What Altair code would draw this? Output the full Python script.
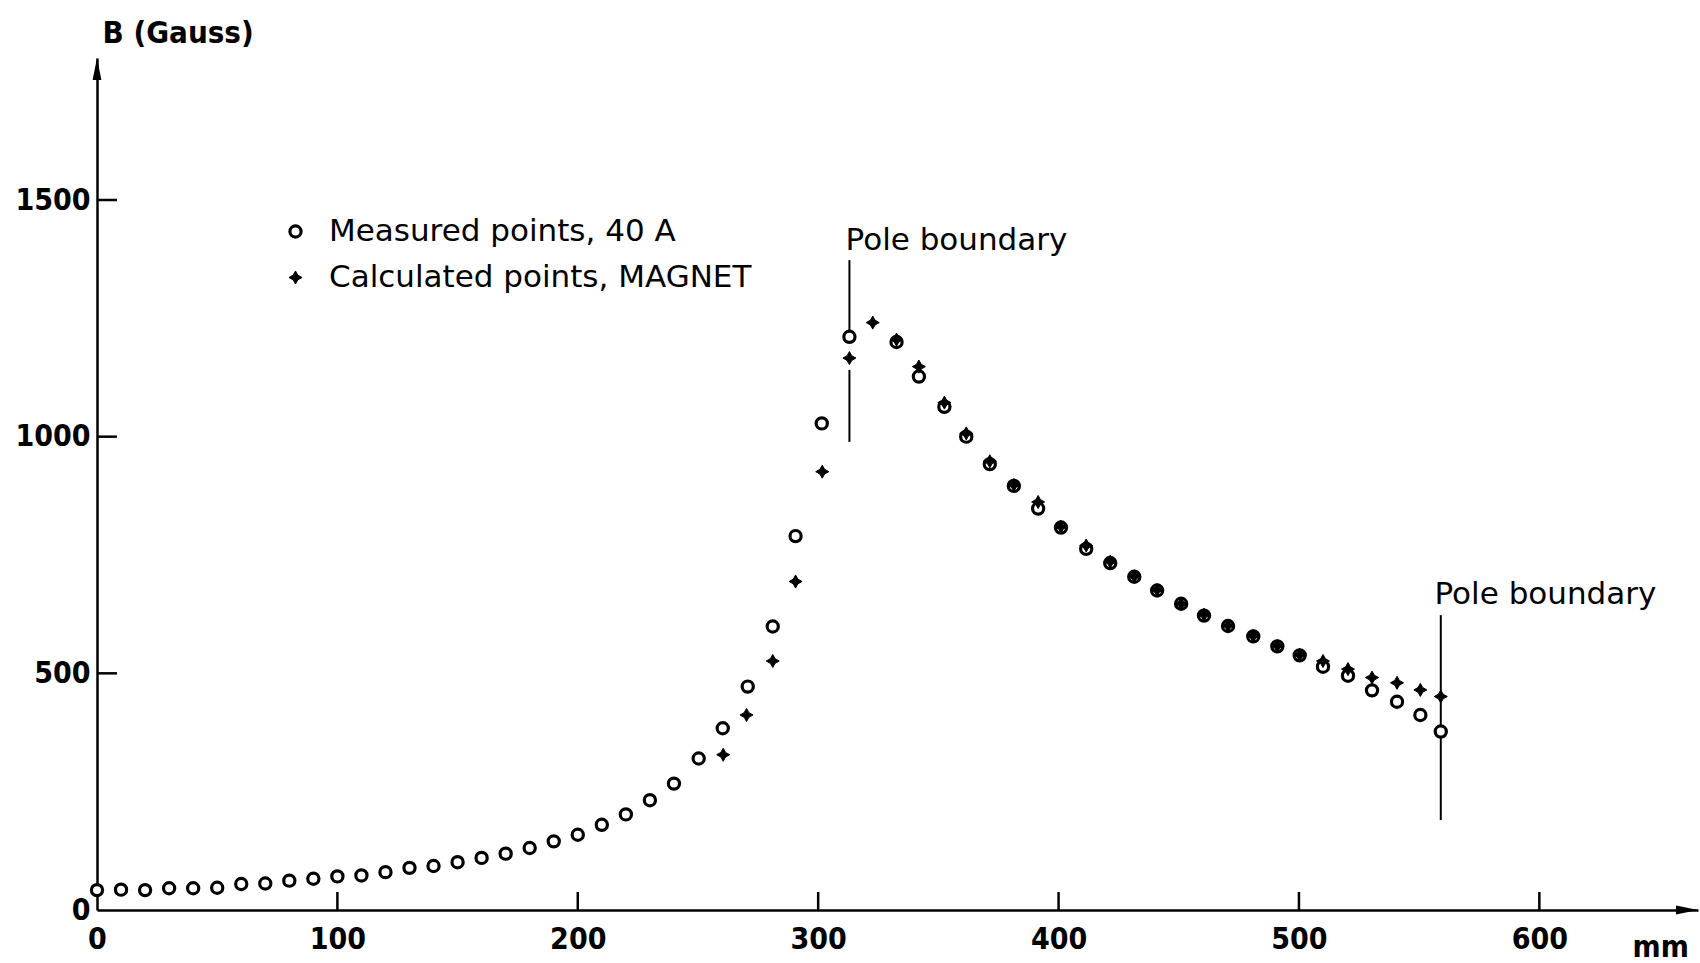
import altair as alt
import pandas as pd

# ---------------- data ----------------
meas_x = [0, 10, 20, 30, 40, 50, 60, 70, 80, 90, 100, 110, 120, 130, 140, 150, 160, 170, 180, 190,
          200, 210, 220, 230, 240, 250.3, 260.3, 270.7, 281.1, 290.6, 301.5, 313,
          332.6, 341.9, 352.5, 361.6, 371.4, 381.4, 391.5, 401, 411.5, 421.5, 431.5, 441, 451,
          460.5, 470.5, 481, 491, 500.3, 510, 520.4, 530.4, 540.8, 550.5, 559]
meas_b = [42, 43, 42, 46, 46, 47, 55, 56, 62, 66, 71, 73, 80, 89, 93, 101, 110, 119, 131, 145,
          159, 180, 202, 232, 267, 320, 384, 472, 599, 790, 1028, 1211,
          1200, 1127, 1063, 1000, 942, 896, 848, 808, 763, 733, 704, 675, 647,
          622, 600, 578, 557, 538, 514, 495, 464, 440, 412, 377]

calc_x = [260.5, 270.2, 281.1, 290.6, 301.7, 313, 322.7, 332.6, 341.9, 352.5, 361.6, 371.4, 381.4,
          391.5, 401, 411.5, 421.5, 431.5, 441, 451, 460.5, 470.5, 481, 491, 500.3, 510, 520.4,
          530.4, 540.8, 550.5, 559]
calc_b = [328, 412, 526, 694, 926, 1166, 1241, 1205, 1148, 1072, 1007, 948, 898,
          862, 810, 770, 736, 705, 676, 647, 624, 601, 579, 558, 539, 526, 509,
          491, 480, 465, 451]

series_names = ["Measured points, 40 A", "Calculated points, MAGNET"]

# pole boundary markers
pole_x = [313, 313, 559]
pole_top = [1373, 1141, 623]
pole_bottom = [1211, 989, 190]
pole_label = ["Pole boundary", "Pole boundary"]
pole_label_x = [311.4, 556.4]
pole_label_b = [1394, 647]

x_ticks = [100, 200, 300, 400, 500, 600]
x_labels = [0, 100, 200, 300, 400, 500, 600]
y_ticks = [500, 1000, 1500]
y_labels = [0, 500, 1000, 1500]

# ---------------- layout ----------------
W, H = 1601, 852
FONT = "DejaVu Sans Condensed"
TXT_FONT = "DejaVu Sans"
STAR = "M0,-1L0.36,-0.36L1,0L0.36,0.36L0,1L-0.36,0.36L-1,0L-0.36,-0.36Z"

xs = alt.Scale(domain=[0, 666], nice=False, zero=False)
ys = alt.Scale(domain=[0, 1800], nice=False, zero=False)

pts = pd.concat([
    pd.DataFrame({"x": meas_x, "b": meas_b, "series": series_names[0]}),
    pd.DataFrame({"x": calc_x, "b": calc_b, "series": series_names[1]}),
], ignore_index=True)

x_axis = alt.Axis(values=x_labels, format="d", ticks=False, tickSize=0, grid=False,
                  domainColor="black", domainWidth=2.5, labelFont=FONT, labelFontSize=30,
                  labelFontWeight="bold", labelColor="black", labelPadding=14,
                  labelFlush=False, labelOverlap=False,
                  title="mm", titleFont=FONT, titleFontSize=30, titleFontWeight="bold",
                  titleColor="black", titleX=1535, titleY=46, titleAlign="left",
                  titleBaseline="alphabetic", titleAnchor="start")
y_axis = alt.Axis(values=y_labels, format="d", ticks=False, tickSize=0, grid=False,
                  domainColor="black", domainWidth=2.5, labelFont=FONT, labelFontSize=30,
                  labelFontWeight="bold", labelColor="black", labelPadding=7,
                  labelFlush=False, labelOverlap=False,
                  title="B (Gauss)", titleFont=FONT, titleFontSize=31, titleFontWeight="bold",
                  titleColor="black", titleAngle=0, titleX=5, titleY=-16, titleAlign="left",
                  titleBaseline="alphabetic")

legend = alt.Legend(title=None, orient="none", legendX=183, legendY=158, padding=0,
                    labelFont=TXT_FONT, labelFontSize=31, labelColor="black", labelLimit=0,
                    labelOffset=18, rowPadding=14, symbolOpacity=1)

points = alt.Chart(pts).mark_point(opacity=1, filled=False).encode(
    x=alt.X("x:Q", scale=xs, axis=x_axis),
    y=alt.Y("b:Q", scale=ys, axis=y_axis),
    shape=alt.Shape("series:N", sort=series_names,
                    scale=alt.Scale(domain=series_names, range=["circle", STAR]), legend=legend),
    fill=alt.Fill("series:N", sort=series_names,
                  scale=alt.Scale(domain=series_names, range=["white", "black"]), legend=legend),
    stroke=alt.Stroke("series:N", sort=series_names,
                      scale=alt.Scale(domain=series_names, range=["black", "#000000"]), legend=legend),
    strokeWidth=alt.StrokeWidth("series:N", sort=series_names,
                                scale=alt.Scale(domain=series_names, range=[3.2, 1]), legend=legend),
    size=alt.Size("series:N", sort=series_names,
                  scale=alt.Scale(domain=series_names, range=[125, 170]), legend=legend),
)

poles = alt.Chart(pd.DataFrame({"x": pole_x, "b": pole_top, "b2": pole_bottom})).mark_rule(
    color="black", strokeWidth=2).encode(
    x=alt.X("x:Q", scale=xs), y=alt.Y("b:Q", scale=ys), y2="b2:Q")

pole_text = alt.Chart(pd.DataFrame({"x": pole_label_x, "b": pole_label_b, "t": pole_label})).mark_text(
    align="left", baseline="alphabetic", font=TXT_FONT, fontSize=31, color="black").encode(
    x=alt.X("x:Q", scale=xs), y=alt.Y("b:Q", scale=ys), text="t:N")

xtick_rules = alt.Chart(pd.DataFrame({"x": x_ticks})).mark_rule(color="black", strokeWidth=2.5).encode(
    x=alt.X("x:Q", scale=xs), y=alt.value(H), y2=alt.value(H - 18))

ytick_rules = alt.Chart(pd.DataFrame({"b": y_ticks})).mark_rule(color="black", strokeWidth=2.5).encode(
    y=alt.Y("b:Q", scale=ys), x=alt.value(0), x2=alt.value(20))

x_arrow = alt.Chart(pd.DataFrame({"a": ["x"]})).mark_point(
    shape="M1,0L-1,-0.4L-1,0.4Z", filled=True, color="black", opacity=1, size=484).encode(
    x=alt.value(W - 11), y=alt.value(H))
y_arrow = alt.Chart(pd.DataFrame({"a": ["y"]})).mark_point(
    shape="M0,-1L0.4,1L-0.4,1Z", filled=True, color="black", opacity=1, size=484).encode(
    x=alt.value(0), y=alt.value(11))

chart = alt.layer(
    poles, points, pole_text, xtick_rules, ytick_rules, x_arrow, y_arrow
).properties(
    width=W, height=H,
    padding={"left": 97, "top": 58, "right": 2, "bottom": 53},
    autosize=alt.AutoSizeParams(type="none"),
    background="white",
).configure_view(stroke="transparent")

chart.save("out.html", embed_options={"renderer": "svg", "actions": False})
